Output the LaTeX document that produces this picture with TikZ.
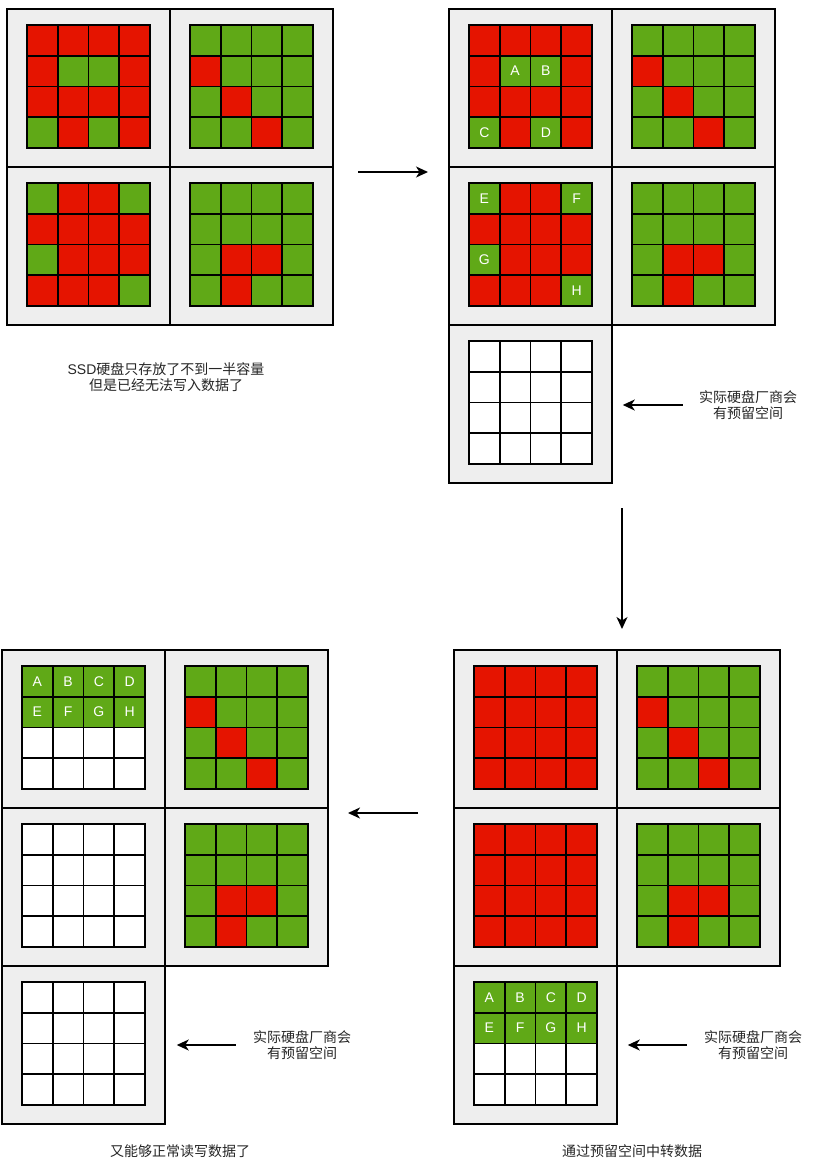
\documentclass[tikz,border=0pt]{standalone}
\usepackage{fontspec}
\setmainfont{Liberation Sans}
\newfontfamily\cjk{Noto Sans CJK SC}
\usetikzlibrary{arrows.meta}

\definecolor{r}{HTML}{E51400}
\definecolor{g}{HTML}{60A917}
\definecolor{w}{HTML}{FFFFFF}
\definecolor{panelgray}{HTML}{EEEEEE}

% cell colours of the panels, row by row
\def\patA{r,r,r,r, r,g,g,r, r,r,r,r, g,r,g,r}
\def\patB{g,g,g,g, r,g,g,g, g,r,g,g, g,g,r,g}
\def\patC{g,r,r,g, r,r,r,r, g,r,r,r, r,r,r,g}
\def\patD{g,g,g,g, g,g,g,g, g,r,r,g, g,r,g,g}
\def\patFull{r,r,r,r, r,r,r,r, r,r,r,r, r,r,r,r}
\def\patFree{w,w,w,w, w,w,w,w, w,w,w,w, w,w,w,w}
\def\patHalf{g,g,g,g, g,g,g,g, w,w,w,w, w,w,w,w}

\tikzset{
  block/.style={draw, fill=panelgray, line width=1.5pt,
    minimum width=163pt, minimum height=158pt, inner sep=0pt},
  cell/.style={draw, line width=1.6pt, minimum size=30.75pt, inner sep=0pt},
  lbl/.style={text=white, font=\fontsize{14}{16}\selectfont},
  note/.style={align=center, inner sep=0pt, text=black!85,
    font=\cjk\fontsize{14}{16.5}\selectfont},
  arr/.style={-{Stealth[length=12pt,width=11pt,inset=3.5pt]}, line width=1.6pt},
}

% one panel: name, left, top, cell colours
\newcommand{\ssdpanel}[4]{%
  \node[block] (#1) at (#2+81.5,#3+79) {};
  \edef\ssdlist{#4}%
  \foreach \c [count=\i from 0] in \ssdlist {
    \pgfmathtruncatemacro\ssdrow{div(\i,4)}
    \pgfmathtruncatemacro\ssdcol{mod(\i,4)}
    \node[cell, fill=\c] (#1-\i) at (#2+35.375+\ssdcol*30.75, #3+31.375+\ssdrow*30.75) {};
  }
}

\begin{document}
\begin{tikzpicture}[x=1pt, y=-1pt]
  \useasboundingbox (0,0) rectangle (814,1164);
  \fill[white] (0,0) rectangle (814,1164);

  % full disk
  \ssdpanel{tl1}{7}{9}{\patA}
  \ssdpanel{tl2}{170}{9}{\patB}
  \ssdpanel{tl3}{7}{167}{\patC}
  \ssdpanel{tl4}{170}{167}{\patD}
  \node[note] (capTL) at (166,377)
    {{\rmfamily SSD}硬盘只存放了不到一半容量\\但是已经无法写入数据了};

  % with reserved space
  \ssdpanel{tr1}{449}{9}{\patA}
  \ssdpanel{tr2}{612}{9}{\patB}
  \ssdpanel{tr3}{449}{167}{\patC}
  \ssdpanel{tr4}{612}{167}{\patD}
  \ssdpanel{tr5}{449}{325}{\patFree}
  \node[lbl] at (tr1-5) {A};
  \node[lbl] at (tr1-6) {B};
  \node[lbl] at (tr1-12) {C};
  \node[lbl] at (tr1-14) {D};
  \node[lbl] at (tr3-0) {E};
  \node[lbl] at (tr3-3) {F};
  \node[lbl] at (tr3-8) {G};
  \node[lbl] at (tr3-15) {H};
  \node[note] (hintTR) at (748,405) {实际硬盘厂商会\\有预留空间};

  % data moved to the reserve
  \ssdpanel{br1}{454}{650}{\patFull}
  \ssdpanel{br2}{617}{650}{\patB}
  \ssdpanel{br3}{454}{808}{\patFull}
  \ssdpanel{br4}{617}{808}{\patD}
  \ssdpanel{br5}{454}{966}{\patHalf}
  \foreach \t [count=\i from 0] in {A,B,C,D,E,F,G,H}
    \node[lbl] at (br5-\i) {\t};
  \node[note] (hintBR) at (753,1045) {实际硬盘厂商会\\有预留空间};
  \node[note] (capBR) at (632,1151) {通过预留空间中转数据};

  % cleaned disk
  \ssdpanel{bl1}{2}{650}{\patHalf}
  \ssdpanel{bl2}{165}{650}{\patB}
  \ssdpanel{bl3}{2}{808}{\patFree}
  \ssdpanel{bl4}{165}{808}{\patD}
  \ssdpanel{bl5}{2}{966}{\patFree}
  \foreach \t [count=\i from 0] in {A,B,C,D,E,F,G,H}
    \node[lbl] at (bl1-\i) {\t};
  \node[note] (hintBL) at (302,1045) {实际硬盘厂商会\\有预留空间};
  \node[note] (capBL) at (180,1151) {又能够正常读写数据了};

  % arrows
  \coordinate (s1) at (358,172);
  \coordinate (e1) at (428,172);
  \coordinate (s2) at (622,508);
  \coordinate (e2) at (622,629);
  \coordinate (s3) at (418,813);
  \coordinate (e3) at (348,813);
  \draw[arr] (s1) -- (e1);
  \draw[arr] (s2) -- (e2);
  \draw[arr] (s3) -- (e3);
  \draw[arr, shorten <=16pt, shorten >=10pt] (hintTR.west) -- (hintTR.west -| tr5.east);
  \draw[arr, shorten <=17pt, shorten >=10pt] (hintBR.west) -- (hintBR.west -| br5.east);
  \draw[arr, shorten <=17pt, shorten >=11pt] (hintBL.west) -- (hintBL.west -| bl5.east);
\end{tikzpicture}
\end{document}
